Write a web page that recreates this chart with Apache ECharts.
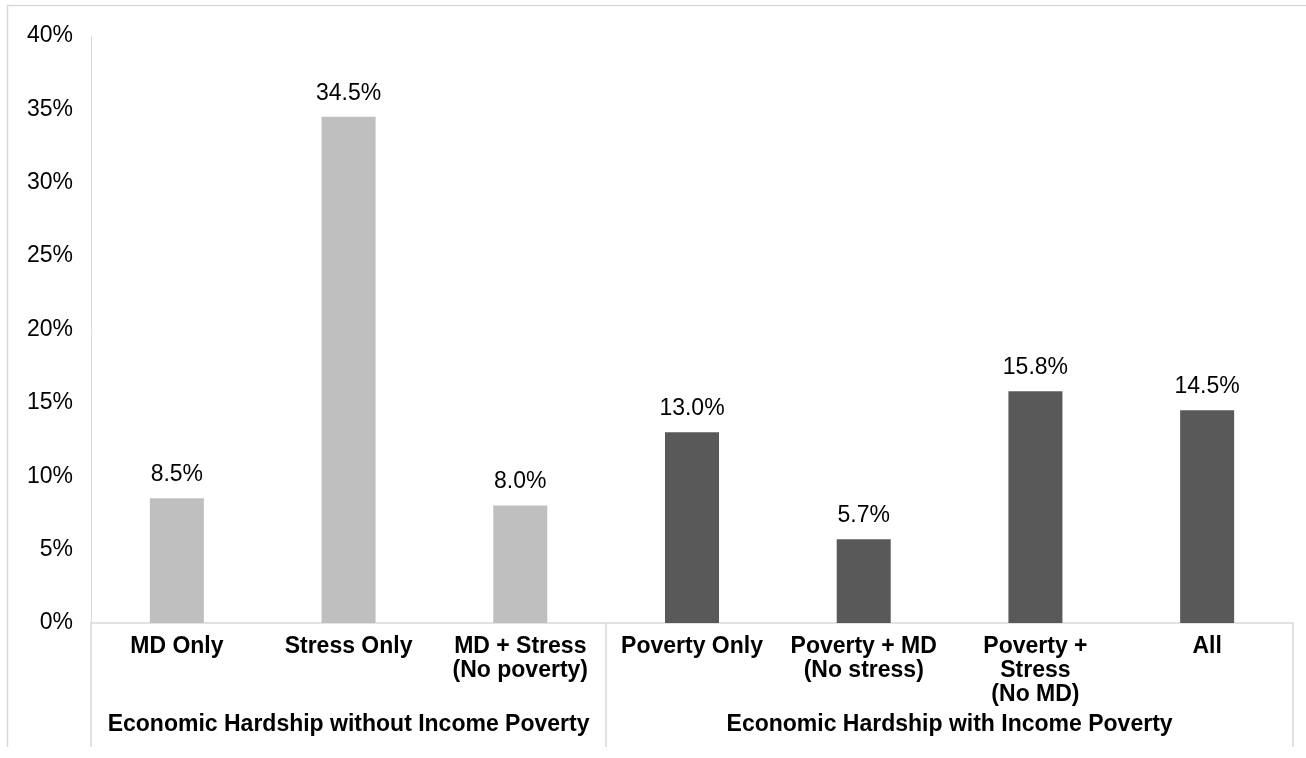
<!DOCTYPE html>
<html>
<head>
<meta charset="utf-8">
<script src="https://cdn.jsdelivr.net/npm/echarts@6/dist/echarts.min.js"></script>
<style>
  html, body { margin: 0; padding: 0; background: #fff; }
  #chart { width: 1306px; height: 758px; }
</style>
</head>
<body>
<div id="chart"></div>
<script>
const categories = [
  'MD Only',
  'Stress Only',
  'MD + Stress\n(No poverty)',
  'Poverty Only',
  'Poverty + MD\n(No stress)',
  'Poverty +\nStress\n(No MD)',
  'All'
];
const values = [8.5, 34.5, 8.0, 13.0, 5.7, 15.8, 14.5];
const groupNames = ['Economic Hardship without Income Poverty', 'Economic Hardship with Income Poverty'];
const groupOf = [0, 0, 0, 1, 1, 1, 1];
const groupBounds = [0, 3, 7];
const yTicks = [0, 5, 10, 15, 20, 25, 30, 35, 40];

const groupColors = ['#BFBFBF', '#595959'];
const FONT = '"Liberation Sans", Arial, Helvetica, sans-serif';
const GRID = '#D9D9D9';

const chart = echarts.init(document.getElementById('chart'), null, { renderer: 'canvas' });

const groupCenters = groupNames.map(function (_, g) {
  return (groupBounds[g] + groupBounds[g + 1]) / 2;
});

chart.setOption({
  animation: false,
  backgroundColor: '#fff',
  textStyle: { fontFamily: FONT },
  grid: { left: 91, right: 13, top: 36, bottom: 135, containLabel: false },
  graphic: [{
    type: 'polyline',
    shape: { points: [[7.5, 747], [7.5, 5.5], [1310, 5.5]] },
    style: { fill: 'none', stroke: GRID, lineWidth: 1.5 },
    silent: true,
    z: -10
  }],
  xAxis: [{
    type: 'category',
    data: categories,
    position: 'bottom',
    axisLine: { show: true, lineStyle: { color: GRID, width: 1.5 } },
    axisTick: { show: false },
    axisLabel: {
      interval: 0,
      color: '#000',
      fontFamily: FONT,
      fontWeight: 'bold',
      fontSize: 23,
      lineHeight: 24,
      margin: 12,
      verticalAlign: 'top'
    },
    splitLine: { show: false }
  }, {
    type: 'value',
    min: 0,
    max: 7,
    position: 'bottom',
    axisLine: { show: false },
    axisTick: {
      show: true,
      customValues: groupBounds,
      length: 124,
      lineStyle: { color: GRID, width: 1.5 }
    },
    axisLabel: {
      show: true,
      customValues: groupCenters,
      formatter: function (v) { return v < groupBounds[1] ? groupNames[0] : groupNames[1]; },
      color: '#000',
      fontFamily: FONT,
      fontWeight: 'bold',
      fontSize: 23,
      lineHeight: 23,
      margin: 90,
      verticalAlign: 'top'
    },
    splitLine: { show: false }
  }],
  yAxis: {
    type: 'value',
    min: yTicks[0],
    max: yTicks[yTicks.length - 1],
    interval: yTicks[1] - yTicks[0],
    axisLine: { show: true, lineStyle: { color: GRID, width: 1 } },
    axisTick: { show: false },
    splitLine: { show: false },
    axisLabel: {
      color: '#000',
      fontFamily: FONT,
      fontSize: 23,
      margin: 18,
      formatter: function (v) { return v + '%'; }
    }
  },
  series: [{
    type: 'bar',
    xAxisIndex: 0,
    barWidth: 54,
    data: values.map(function (v, i) {
      return { value: v, itemStyle: { color: groupColors[groupOf[i]] } };
    }),
    label: {
      show: true,
      position: 'top',
      distance: 12,
      color: '#000',
      fontFamily: FONT,
      fontSize: 23,
      formatter: function (p) { return p.value.toFixed(1) + '%'; }
    }
  }]
});
</script>
</body>
</html>
